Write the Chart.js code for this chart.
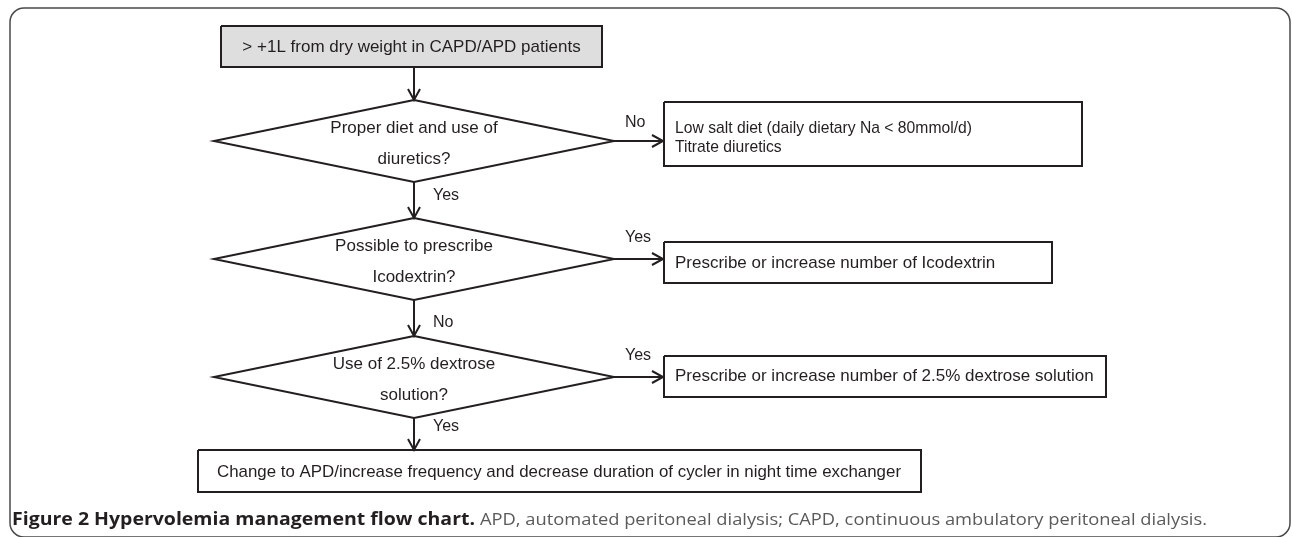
<!DOCTYPE html>
<html>
<head>
<meta charset="utf-8">
<script src="https://cdn.jsdelivr.net/npm/chart.js@4.4.1/dist/chart.umd.min.js"></script>
<style>
  html, body { margin: 0; padding: 0; background: #fff; }
  canvas { display: block; }
</style>
</head>
<body>
<canvas id="flow" width="1292" height="537"></canvas>
<script>
// ---- chart content ----
const startText = '> +1L from dry weight in CAPD/APD patients';
const questions = [
  ['Proper diet and use of', 'diuretics?'],
  ['Possible to prescribe', 'Icodextrin?'],
  ['Use of 2.5% dextrose', 'solution?']
];
const actions = [
  ['Low salt diet (daily dietary Na < 80mmol/d)', 'Titrate diuretics'],
  ['Prescribe or increase number of Icodextrin'],
  ['Prescribe or increase number of 2.5% dextrose solution']
];
const sideLabels = ['No', 'Yes', 'Yes'];
const downLabels = ['Yes', 'No', 'Yes'];
const finalText = 'Change to APD/increase frequency and decrease duration of cycler in night time exchanger';
const captionBold = 'Figure 2 Hypervolemia management flow chart.';
const captionText = 'APD, automated peritoneal dialysis; CAPD, continuous ambulatory peritoneal dialysis.';

// ---- layout (chart units, x 0..1292, y 0..537 top-down) ----
const spineX = 414;
const startBox = { x0: 221, x1: 602, y0: 26, y1: 67 };
const diamondY = [141, 259, 377];
const diamondHalfW = 200;
const diamondHalfH = 41;
const actionX0 = 664;
const actionX1 = [1082, 1052, 1106];
const actionY = [[102, 166], [242, 283], [356, 397]];
const finalBox = { x0: 198, x1: 921, y0: 450, y1: 492 };
const frame = { x0: 10, x1: 1290, y0: 8, y1: 537, r: 14 };

// ---- styles ----
const INK = '#231f20';
const FONT = '"Liberation Sans", Arial, sans-serif';
const CAPTION_FONT = '"Open Sans", "Noto Sans", sans-serif';

function poly(points, extra) {
  return Object.assign({
    type: 'line',
    data: points.map(p => ({ x: p[0], y: p[1] })),
    borderColor: INK,
    borderWidth: 2,
    pointRadius: 0,
    tension: 0,
    fill: false,
    clip: false,
    borderJoinStyle: 'miter',
    borderCapStyle: 'butt'
  }, extra || {});
}

function rect(b, extra) {
  return poly([[b.x0, b.y0], [b.x1, b.y0], [b.x1, b.y1], [b.x0, b.y1], [b.x0, b.y0]], extra);
}

function downArrow(x, y0, y1) {
  return [poly([[x, y0], [x, y1]]), poly([[x - 6, y1 - 11], [x, y1], [x + 6, y1 - 11]])];
}

function rightArrow(y, x0, x1) {
  return [poly([[x0, y], [x1, y]]), poly([[x1 - 11, y - 6], [x1, y], [x1 - 11, y + 6]])];
}

const datasets = [];
datasets.push(rect(startBox, { fill: 'shape', backgroundColor: '#dedede' }));
datasets.push(...downArrow(spineX, startBox.y1, diamondY[0] - diamondHalfH));

diamondY.forEach((cy, i) => {
  datasets.push(poly([
    [spineX, cy - diamondHalfH],
    [spineX + diamondHalfW, cy],
    [spineX, cy + diamondHalfH],
    [spineX - diamondHalfW, cy],
    [spineX, cy - diamondHalfH]
  ]));
  datasets.push(...rightArrow(cy, spineX + diamondHalfW, actionX0 - 1));
  datasets.push(rect({ x0: actionX0, x1: actionX1[i], y0: actionY[i][0], y1: actionY[i][1] }));
  const nextTop = i < diamondY.length - 1 ? diamondY[i + 1] - diamondHalfH : finalBox.y0;
  datasets.push(...downArrow(spineX, cy + diamondHalfH, nextTop));
});
datasets.push(rect(finalBox));

function drawText(ctx, str, x, y, opt) {
  ctx.save();
  ctx.font = opt.font;
  ctx.fillStyle = opt.color || INK;
  ctx.textBaseline = 'middle';
  ctx.textAlign = opt.align || 'left';
  const w = ctx.measureText(str).width;
  const sx = opt.width ? opt.width / w : (opt.scaleX || 1);
  ctx.translate(x, y);
  ctx.scale(sx, 1);
  ctx.fillText(str, 0, 0);
  ctx.restore();
  return sx;
}

const flowText = {
  id: 'flowText',
  beforeDatasetsDraw(chart) {
    const { ctx, scales: { x, y } } = chart;
    const px = v => x.getPixelForValue(v);
    const py = v => y.getPixelForValue(v);
    // outer frame
    ctx.save();
    ctx.strokeStyle = '#4a4a4a';
    ctx.lineWidth = 1.5;
    ctx.beginPath();
    ctx.roundRect(px(frame.x0), py(frame.y0), px(frame.x1) - px(frame.x0), py(frame.y1) - py(frame.y0), frame.r);
    ctx.stroke();
    ctx.restore();
  },
  afterDatasetsDraw(chart) {
    const { ctx, scales: { x, y } } = chart;
    const px = v => x.getPixelForValue(v);
    const py = v => y.getPixelForValue(v);
    const f17 = '17px ' + FONT;
    const f16 = '16px ' + FONT;

    drawText(ctx, startText, px((startBox.x0 + startBox.x1) / 2), py(47), { font: f17, align: 'center' });

    questions.forEach((q, i) => {
      drawText(ctx, q[0], px(spineX), py(diamondY[i] - 13), { font: f17, align: 'center' });
      drawText(ctx, q[1], px(spineX), py(diamondY[i] + 18), { font: f17, align: 'center' });
      drawText(ctx, sideLabels[i], px(625), py(diamondY[i] - (i === 0 ? 18 : 21)), { font: f16 });
      drawText(ctx, downLabels[i], px(433), py(diamondY[i] + 55 - (i === 1 ? -9 : 0) - (i === 2 ? 5 : 0)), { font: f16 });
    });

    // action boxes
    const sx = drawText(ctx, actions[0][0], px(675), py(128), { font: f17, width: 297 });
    drawText(ctx, actions[0][1], px(675), py(147), { font: f17, scaleX: sx });
    drawText(ctx, actions[1][0], px(675), py(263), { font: f17 });
    drawText(ctx, actions[2][0], px(675), py(376), { font: f17 });

    drawText(ctx, finalText, px(217), py(472), { font: f17, width: 684 });

    drawText(ctx, captionBold, px(12), py(520), { font: 'bold 17px ' + CAPTION_FONT, width: 463 });
    drawText(ctx, captionText, px(480), py(520), { font: '17px ' + CAPTION_FONT, width: 727, color: '#5a5a5a' });
  }
};

new Chart(document.getElementById('flow'), {
  type: 'line',
  data: { datasets },
  options: {
    responsive: false,
    animation: false,
    layout: { padding: 0 },
    plugins: { legend: { display: false }, tooltip: { enabled: false } },
    scales: {
      x: { type: 'linear', min: 0, max: 1292, display: false },
      y: { type: 'linear', min: 0, max: 537, reverse: true, display: false }
    }
  },
  plugins: [flowText]
});
</script>
</body>
</html>
